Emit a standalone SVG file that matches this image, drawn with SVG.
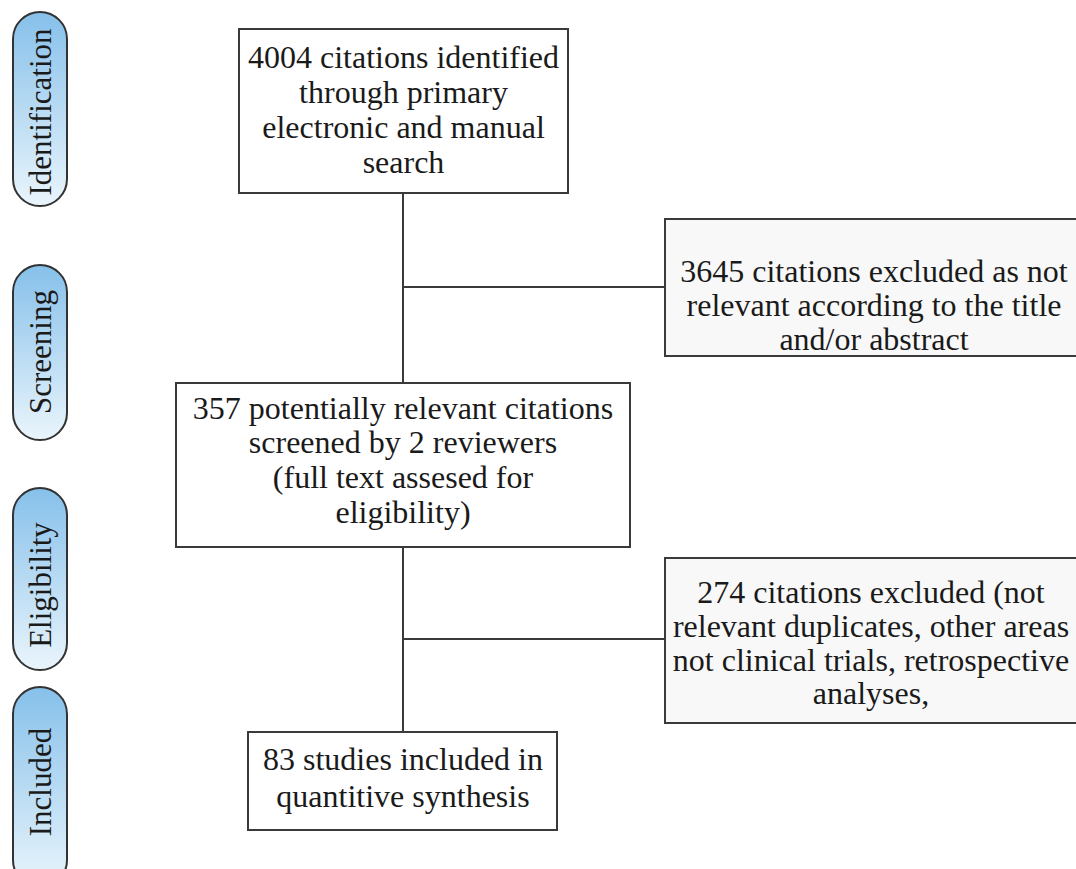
<svg xmlns="http://www.w3.org/2000/svg" width="1076" height="869" viewBox="0 0 1076 869">
<defs>
<linearGradient id="pillGrad" x1="0" y1="0" x2="0" y2="1">
<stop offset="0" stop-color="#86c0ea"/>
<stop offset="1" stop-color="#eaf5fc"/>
</linearGradient>
<style>
.box{fill:#ffffff;stroke:#3a3a3a;stroke-width:2}
.exbox{fill:#f8f8f8;stroke:#3a3a3a;stroke-width:2}
.pill{fill:url(#pillGrad);stroke:#333333;stroke-width:2}
.t{font-family:"Liberation Serif","Times New Roman",serif;font-size:32px;fill:#1a1a1a;text-anchor:middle}
.pt{font-family:"Liberation Serif","Times New Roman",serif;font-size:31px;fill:#1a1a1a;text-anchor:middle}
.conn{stroke:#3a3a3a;stroke-width:2;fill:none}
</style>
</defs>
<rect width="1076" height="869" fill="#ffffff"/>
<g id="phase-identification">
<rect class="pill" x="13" y="12" width="54" height="194" rx="27"/>
<text class="pt" transform="translate(51,112) rotate(-90)">Identification</text>
</g>
<g id="phase-screening">
<rect class="pill" x="13" y="265" width="54" height="175" rx="27"/>
<text class="pt" transform="translate(51,352) rotate(-90)">Screening</text>
</g>
<g id="phase-eligibility">
<rect class="pill" x="13" y="488" width="54" height="182" rx="27"/>
<text class="pt" transform="translate(51,585) rotate(-90)">Eligibility</text>
</g>
<g id="phase-included">
<rect class="pill" x="13" y="687" width="54" height="200" rx="27"/>
<text class="pt" transform="translate(51,782) rotate(-90)">Included</text>
</g>
<g id="connectors">
<line class="conn" x1="403" y1="193" x2="403" y2="383"/>
<line class="conn" x1="403" y1="287" x2="665" y2="287"/>
<line class="conn" x1="403" y1="547" x2="403" y2="732"/>
<line class="conn" x1="403" y1="639" x2="665" y2="639"/>
</g>
<g id="node-identified">
<rect class="box" x="239" y="29" width="329" height="164"/>
<text class="t" x="403.5" y="68">4004 citations identified</text>
<text class="t" x="403.5" y="103">through primary</text>
<text class="t" x="403.5" y="138">electronic and manual</text>
<text class="t" x="403.5" y="173">search</text>
</g>
<g id="node-excluded-title">
<rect class="exbox" x="665" y="219" width="412" height="137"/>
<text class="t" x="874" y="282">3645 citations excluded as not</text>
<text class="t" x="874" y="316">relevant according to the title</text>
<text class="t" x="874" y="350">and/or abstract</text>
</g>
<g id="node-screened">
<rect class="box" x="176" y="383" width="454" height="164"/>
<text class="t" x="403" y="419">357 potentially relevant citations</text>
<text class="t" x="403" y="453">screened by 2 reviewers</text>
<text class="t" x="403" y="488">(full text assesed for</text>
<text class="t" x="403" y="523">eligibility)</text>
</g>
<g id="node-excluded-fulltext">
<rect class="exbox" x="665" y="558" width="412" height="165"/>
<text class="t" x="871" y="603">274 citations excluded (not</text>
<text class="t" x="871" y="637">relevant duplicates, other areas</text>
<text class="t" x="871" y="671">not clinical trials, retrospective</text>
<text class="t" x="871" y="704">analyses,</text>
</g>
<g id="node-included">
<rect class="box" x="248" y="732" width="309" height="98"/>
<text class="t" x="403" y="770">83 studies included in</text>
<text class="t" x="403" y="807">quantitive synthesis</text>
</g>
</svg>
